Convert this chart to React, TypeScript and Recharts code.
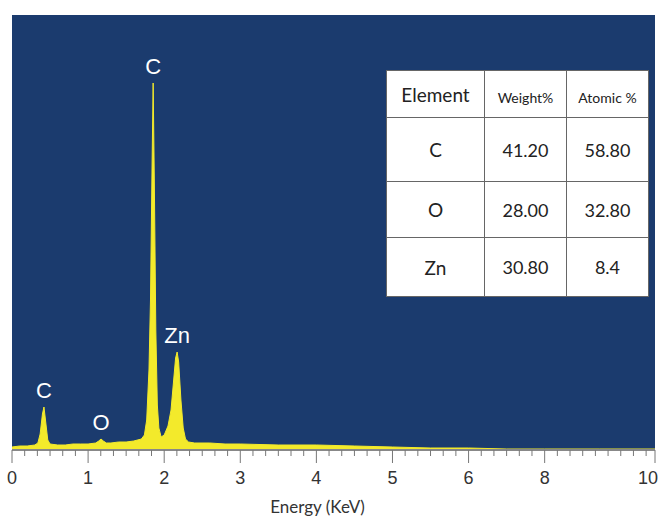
import React from "react";
import { ComposedChart, Area, XAxis, YAxis, CartesianGrid, ReferenceDot } from "recharts";

// spectrum (keV, counts in plot px)
const energy = [
  0, 0.1, 0.2, 0.3, 0.34, 0.37, 0.4, 0.42, 0.44, 0.47, 0.5, 0.6, 0.7, 0.8, 0.9, 1.0, 1.1, 1.14, 1.17, 1.2,
  1.24, 1.3, 1.4, 1.5, 1.6, 1.7, 1.74, 1.77, 1.8, 1.82, 1.84, 1.855, 1.87, 1.89, 1.91, 1.93, 1.96, 2.0, 2.05,
  2.09, 2.12, 2.15, 2.17, 2.19, 2.22, 2.25, 2.28, 2.32, 2.4, 2.6, 2.8, 3.0, 3.5, 4.0, 4.5, 5.0, 5.5, 6.0, 7.0,
  8.0, 9.0, 10.0,
];
const counts = [
  3, 4, 4, 5, 7, 16, 36, 43, 30, 10, 6, 5, 5, 6, 6, 6, 7, 9, 11, 9,
  7, 7, 8, 8, 9, 11, 15, 30, 80, 150, 280, 367, 270, 120, 45, 22, 13, 15, 24,
  40, 66, 92, 98, 88, 50, 22, 11, 8, 7, 7, 6, 6, 5, 5, 4, 3, 2, 2, 1,
  1, 1, 1,
];

// axis labels are not evenly spaced in keV on the original
const tickLabels = ["0", "1", "2", "3", "4", "5", "6", "8", "10"];
const tickEnergy = [0, 1, 2, 3, 4, 5, 6, 8, 10];
const tickPos = [0, 1, 2, 3, 4, 5, 6, 7, 8.45];

const peakNames = ["C", "O", "C", "Zn"];
const peakEnergy = [0.42, 1.17, 1.855, 2.17];
const peakCounts = [43, 11, 367, 98];

const tableHeader = ["Element", "Weight%", "Atomic %"];
const elements = ["C", "O", "Zn"];
const weightPct = ["41.20", "28.00", "30.80"];
const atomicPct = ["58.80", "32.80", "8.4"];

const toAxis = (e: number) => {
  for (let i = 1; i < tickEnergy.length; i++) {
    if (e <= tickEnergy[i]) {
      const t = (e - tickEnergy[i - 1]) / (tickEnergy[i] - tickEnergy[i - 1]);
      return tickPos[i - 1] + t * (tickPos[i] - tickPos[i - 1]);
    }
  }
  return tickPos[tickPos.length - 1];
};

const data = energy.map((e, i) => ({ x: toAxis(e), counts: counts[i] }));

const allTicks: number[] = [];
for (let k = 0; k <= 50; k++) allTicks.push(k / 6);
allTicks.push(8.45);

const narrow = "'Liberation Sans Narrow', 'Liberation Sans', Arial, sans-serif";

const AxisTick = (props: any) => {
  const { x, y, payload } = props;
  const idx = tickPos.findIndex((p) => Math.abs(p - payload.value) < 1e-6);
  const major = idx >= 0;
  const last = idx === tickPos.length - 1;
  return (
    <g>
      <line x1={x} x2={x} y1={y} y2={y + (major ? 13 : 6)} stroke="#777" strokeWidth={1} />
      {major && (
        <text
          x={last ? 658 : x}
          y={y + 34}
          textAnchor={last ? "end" : "middle"}
          fill="#333"
          fontSize={18}
          fontFamily={narrow}
        >
          {tickLabels[idx]}
        </text>
      )}
    </g>
  );
};

const cell: React.CSSProperties = {
  border: "1px solid #666",
  textAlign: "center",
  verticalAlign: "middle",
  padding: 0,
  color: "#222",
};

export default function App() {
  return (
    <div style={{ position: "absolute", left: 0, top: 0, width: 660, height: 519, background: "#fff" }}>
      <ComposedChart width={660} height={519} data={data} margin={{ top: 15, right: 5, left: 12, bottom: 0 }}>
        <CartesianGrid fill="#1b3b6e" horizontal={false} vertical={false} />
        <XAxis
          dataKey="x"
          type="number"
          domain={[0, 8.45]}
          ticks={allTicks}
          interval={0}
          tick={<AxisTick />}
          tickLine={false}
          tickSize={0}
          tickMargin={0}
          height={69}
          axisLine={{ stroke: "#888", strokeWidth: 2 }}
          label={{
            value: "Energy (KeV)",
            position: "insideBottom",
            offset: 6,
            dx: -16,
            fill: "#333",
            fontSize: 17,
            fontFamily: "Lato, sans-serif",
          }}
        />
        <YAxis hide domain={[0, 435]} allowDataOverflow />
        <Area
          type="linear"
          dataKey="counts"
          stroke="#f3ea2b"
          strokeWidth={1}
          fill="#f3ea2b"
          fillOpacity={1}
          isAnimationActive={false}
          dot={false}
          activeDot={false}
        />
        {peakNames.map((n, i) => (
          <ReferenceDot
            key={i}
            x={toAxis(peakEnergy[i])}
            y={peakCounts[i]}
            r={0}
            stroke="none"
            label={{ value: n, position: "top", offset: 9, fill: "#fff", fontSize: 22, fontFamily: narrow }}
          />
        ))}
      </ComposedChart>
      <table
        style={{
          position: "absolute",
          left: 386,
          top: 70,
          width: 262,
          height: 226,
          borderCollapse: "collapse",
          background: "#fff",
          fontFamily: "Lato, sans-serif",
          tableLayout: "fixed",
        }}
      >
        <colgroup>
          <col style={{ width: 98 }} />
          <col style={{ width: 82 }} />
          <col style={{ width: 82 }} />
        </colgroup>
        <tbody>
          <tr style={{ height: 47 }}>
            <td style={{ ...cell, fontSize: 19 }}>{tableHeader[0]}</td>
            <td style={{ ...cell, fontSize: 14, paddingTop: 6 }}>{tableHeader[1]}</td>
            <td style={{ ...cell, fontSize: 14, paddingTop: 6 }}>{tableHeader[2]}</td>
          </tr>
          {elements.map((el, i) => (
            <tr key={el} style={{ height: [64, 56, 59][i] }}>
              <td style={{ ...cell, fontSize: 19 }}>{el}</td>
              <td style={{ ...cell, fontSize: 18 }}>{weightPct[i]}</td>
              <td style={{ ...cell, fontSize: 18 }}>{atomicPct[i]}</td>
            </tr>
          ))}
        </tbody>
      </table>
    </div>
  );
}
